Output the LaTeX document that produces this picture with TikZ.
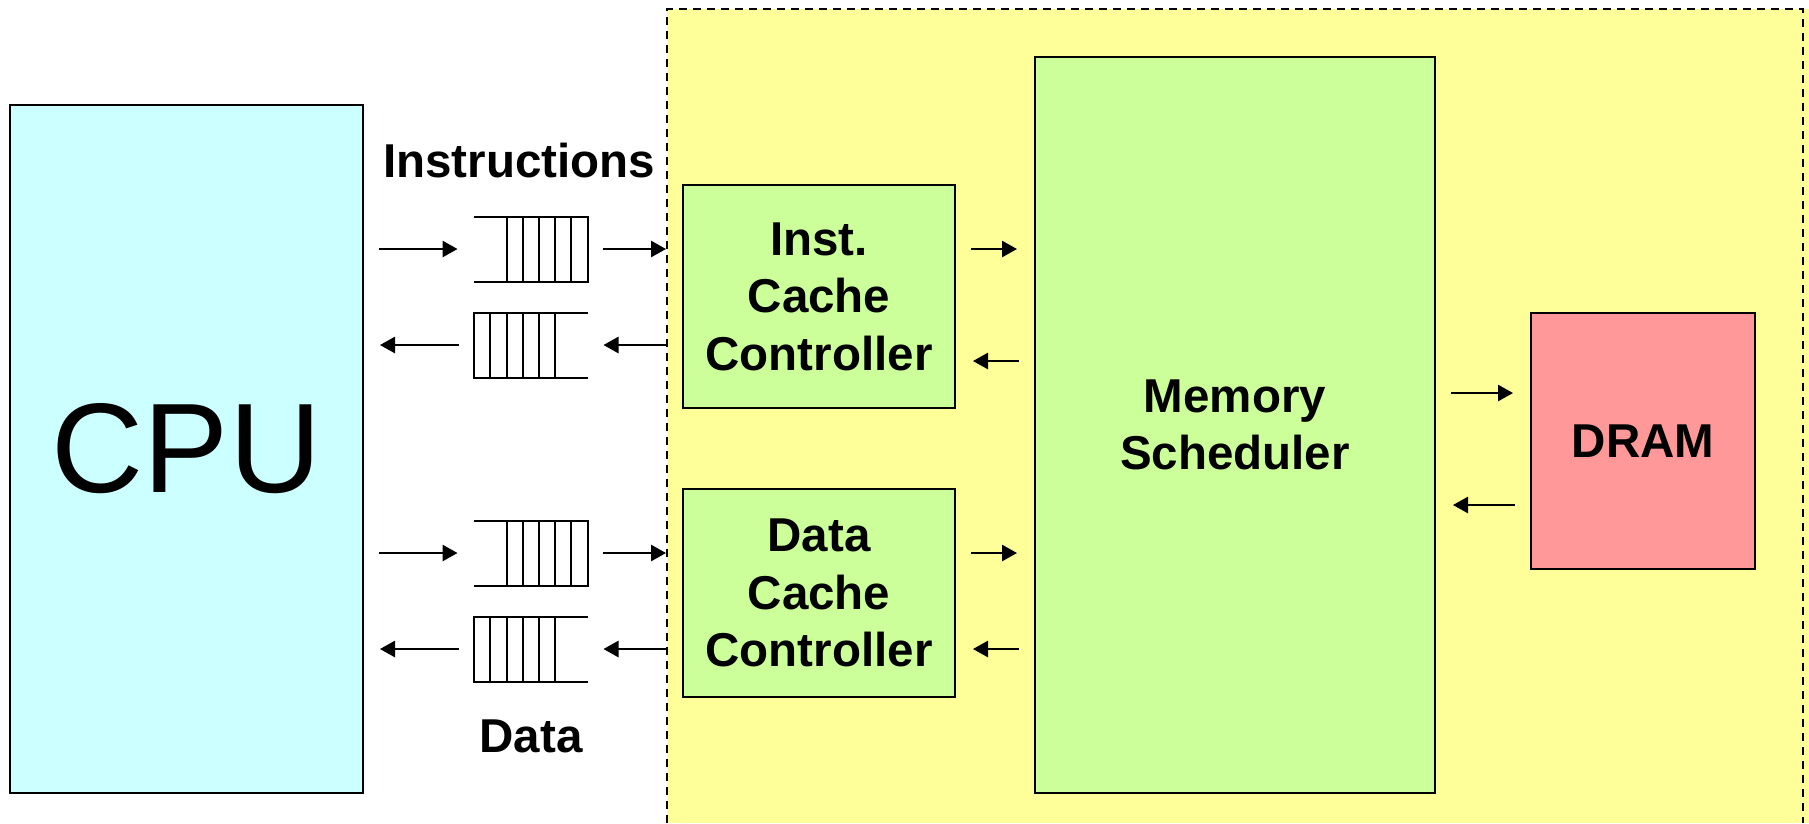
\documentclass[tikz,border=0pt]{standalone}
\usepackage{fontspec}
\setmainfont{Liberation Sans}
\usetikzlibrary{arrows.meta}
\definecolor{cpuc}{HTML}{CCFFFF}
\definecolor{yelc}{HTML}{FFFF99}
\definecolor{grnc}{HTML}{CCFF99}
\definecolor{dramc}{HTML}{FF9999}
\begin{document}
\begin{tikzpicture}[x=0.4pt,y=-0.4pt,
  box/.style={draw, line width=0.8pt, inner sep=0pt},
  lbl/.style={font=\fontsize{19}{23}\selectfont\bfseries, align=center},
  arr/.style={line width=0.8pt, -{Triangle[length=6pt,width=6.5pt]}},
  ql/.style={line width=0.8pt},
  qbox/.style={inner sep=0pt, minimum width=45.2pt, minimum height=25.6pt}]
\useasboundingbox (0,0) rectangle (1809,823);
% yellow region
\fill[yelc] (667,9) rectangle (1809,823);
\draw[line width=0.8pt, dash pattern=on 3.2pt off 2.4pt] (667,823) -- (667,9) -- (1803,9) -- (1803,823);

% main boxes
\node[box, fill=cpuc, minimum width=141.2pt, minimum height=275.2pt, font=\fontsize{51}{60}\selectfont] (cpu) at (186.5,449) {CPU};
\node[box, fill=grnc, minimum width=108.8pt, minimum height=89.2pt, lbl] (ic) at (819,296.5) {Inst.\\Cache\\Controller};
\node[box, fill=grnc, minimum width=108.8pt, minimum height=83.2pt, lbl] (dc) at (819,593) {Data\\Cache\\Controller};
\node[box, fill=grnc, minimum width=160pt, minimum height=294.4pt, lbl] (ms) at (1235,425) {Memory\\Scheduler};
\node[box, fill=dramc, minimum width=89.6pt, minimum height=102.4pt, lbl] (dram) at (1643,441) {DRAM};

% labels
\node[lbl] (instl) at (519,161) {Instructions};
\node[lbl] (datal) at (531,736) {Data};

% queues
\node[qbox] (q1) at (530.5,249) {};
\node[qbox] (q2) at (530.5,345) {};
\node[qbox] (q3) at (530.5,553) {};
\node[qbox] (q4) at (530.5,649) {};
\foreach \q in {q1,q3}{
  \draw[ql] (\q.north west) -- (\q.north east) -- (\q.south east) -- (\q.south west);
  \foreach \d in {33,49,65.5,81.7,97.7}{
    \draw[ql] ([xshift=\d*0.4pt]\q.north west) -- ([xshift=\d*0.4pt]\q.south west);
  }
}
\foreach \q in {q2,q4}{
  \draw[ql] (\q.north east) -- (\q.north west) -- (\q.south west) -- (\q.south east);
  \foreach \d in {16.7,33,49,65.5,81}{
    \draw[ql] ([xshift=\d*0.4pt]\q.north west) -- ([xshift=\d*0.4pt]\q.south west);
  }
}

% CPU <-> queues
\draw[arr] ([xshift=6pt]cpu.east |- q1) -- ([xshift=-6.4pt]q1.west);
\draw[arr] ([xshift=-6pt]q2.west) -- ([xshift=6.4pt]cpu.east |- q2);
\draw[arr] ([xshift=6pt]cpu.east |- q3) -- ([xshift=-6.4pt]q3.west);
\draw[arr] ([xshift=-6pt]q4.west) -- ([xshift=6.4pt]cpu.east |- q4);

% queues <-> caches
\draw[arr] ([xshift=6pt]q1.east) -- ([xshift=-6.4pt]ic.west |- q1);
\draw[arr] ([xshift=-6.4pt]ic.west |- q2) -- ([xshift=6.4pt]q2.east);
\draw[arr] ([xshift=6pt]q3.east) -- ([xshift=-6.4pt]dc.west |- q3);
\draw[arr] ([xshift=-6.4pt]dc.west |- q4) -- ([xshift=6.4pt]q4.east);

% caches <-> scheduler
\draw[arr] ([xshift=6pt]ic.east |- q1) -- ([xshift=-6.8pt]ms.west |- q1);
\draw[arr] ([xshift=-6pt]ms.west |- 0,361) -- ([xshift=6.8pt]ic.east |- 0,361);
\draw[arr] ([xshift=6pt]dc.east |- q3) -- ([xshift=-6.8pt]ms.west |- q3);
\draw[arr] ([xshift=-6pt]ms.west |- q4) -- ([xshift=6.8pt]dc.east |- q4);

% scheduler <-> DRAM
\draw[arr] ([xshift=6pt]ms.east |- 0,393) -- ([xshift=-6.8pt]dram.west |- 0,393);
\draw[arr] ([xshift=-6pt]dram.west |- 0,505) -- ([xshift=6.8pt]ms.east |- 0,505);
\end{tikzpicture}
\end{document}
